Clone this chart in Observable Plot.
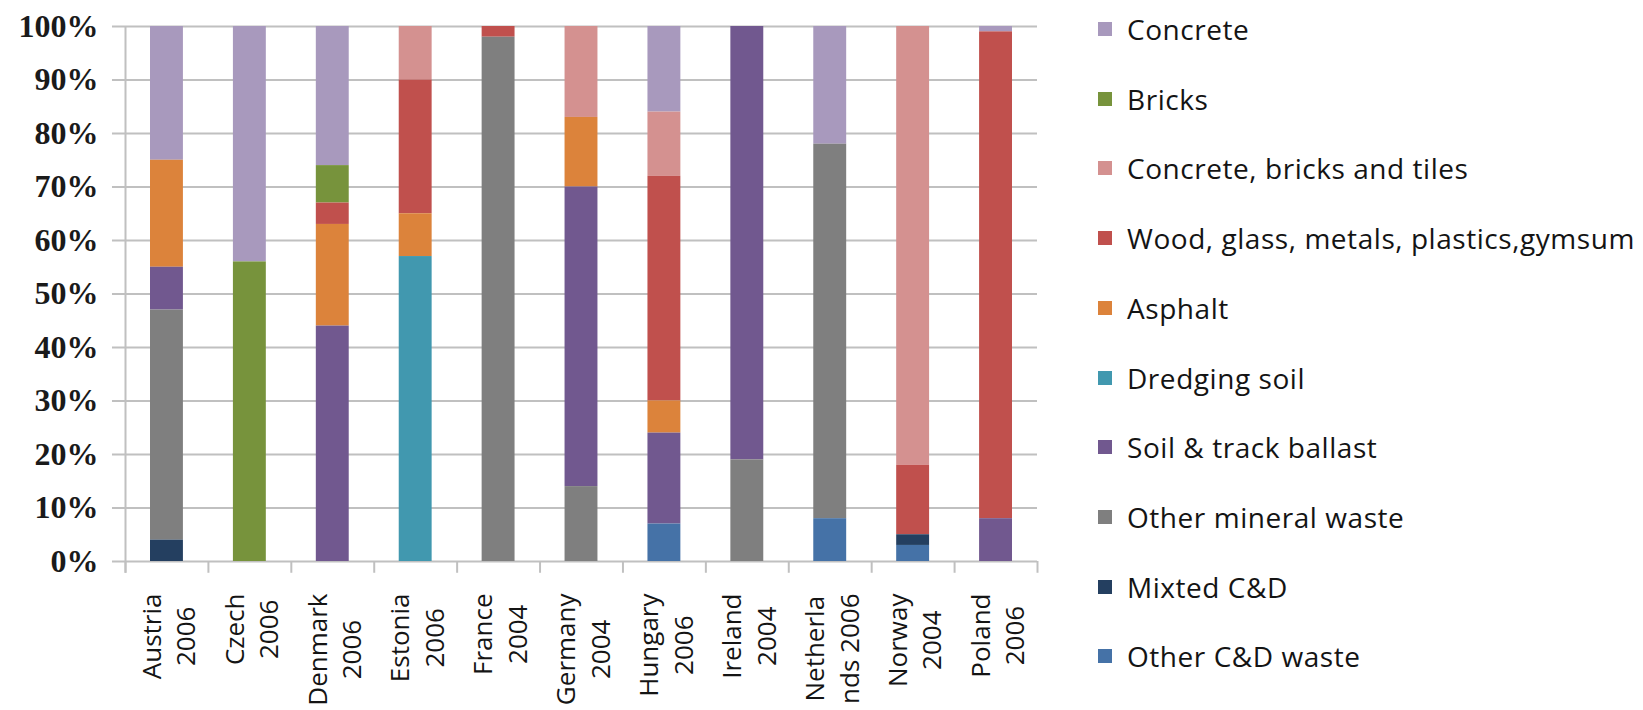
<!DOCTYPE html>
<html><head><meta charset="utf-8">
<script src="https://cdn.jsdelivr.net/npm/d3@7"></script>
<script src="https://cdn.jsdelivr.net/npm/@observablehq/plot@0.6"></script>
<style>
html,body{margin:0;padding:0;background:#fff;}
#wrap{display:flex;width:1643px;height:710px;overflow:hidden;}
#chart{width:1080px;height:710px;}
#legend{position:relative;width:563px;height:710px;font-family:"Open Sans",sans-serif;font-size:28px;letter-spacing:0.55px;color:#141414;}
.item{position:absolute;left:18px;display:flex;align-items:center;white-space:nowrap;height:40px;margin-top:-20px;}
.sw{width:14px;height:14px;margin-right:15px;flex:none;}
</style></head>
<body><div id="wrap"><div id="chart"></div><div id="legend"></div></div>
<script>
// Categories (x axis labels)
const countries = ["Austria\n2006","Czech\n2006","Denmark\n2006","Estonia\n2006","France\n2004","Germany\n2004","Hungary\n2006","Ireland\n2004","Netherla\nnds 2006","Norway\n2004","Poland\n2006"];

// Series values (% share), one array per waste type, in country order
const concrete            = [25,44,26, 0, 0, 0,16, 0,22, 0, 1];
const bricks              = [ 0,56, 7, 0, 0, 0, 0, 0, 0, 0, 0];
const concreteBricksTiles = [ 0, 0, 0,10, 0,17,12, 0, 0,82, 0];
const woodGlassMetals     = [ 0, 0, 4,25, 2, 0,42, 0, 0,13,91];
const asphalt             = [20, 0,19, 8, 0,13, 6, 0, 0, 0, 0];
const dredgingSoil        = [ 0, 0, 0,57, 0, 0, 0, 0, 0, 0, 0];
const soilTrackBallast    = [ 8, 0,44, 0, 0,56,17,81, 0, 0, 8];
const otherMineralWaste   = [43, 0, 0, 0,98,14, 0,19,70, 0, 0];
const mixtedCD            = [ 4, 0, 0, 0, 0, 0, 0, 0, 0, 2, 0];
const otherCDWaste        = [ 0, 0, 0, 0, 0, 0, 7, 0, 8, 3, 0];

// Series names (legend order, top to bottom) and colours
const seriesNames = ["Concrete","Bricks","Concrete, bricks and tiles","Wood, glass, metals, plastics,gymsum","Asphalt","Dredging soil","Soil & track ballast","Other mineral waste","Mixted C&D","Other C&D waste"];
const seriesValues = [concrete,bricks,concreteBricksTiles,woodGlassMetals,asphalt,dredgingSoil,soilTrackBallast,otherMineralWaste,mixtedCD,otherCDWaste];
const seriesColors = ["#a899bd","#77933c","#d49190","#c0504d","#dc833b","#4198af","#71588f","#7f7f7f","#243f60","#4572a7"];

// Y tick values
const yTicks = [0,10,20,30,40,50,60,70,80,90,100];

const rows = [];
seriesNames.forEach((s, k) => seriesValues[k].forEach((v, i) => {
  if (v > 0) rows.push({i, country: countries[i], type: s, value: v});
}));
const stackOrder = seriesNames.slice().reverse();
const xTicks = countries.map((c, i) => i + 0.5);
const boundaries = d3.range(countries.length + 1);
const grid = "#c0c0c0";

const chart = Plot.plot({
  width: 1080, height: 710,
  marginLeft: 125, marginRight: 43, marginTop: 26, marginBottom: 149,
  style: {fontFamily: "'Open Sans', sans-serif", color: "#141414", background: "#fff"},
  x: {domain: [0, countries.length], axis: null},
  y: {domain: [0, 100], axis: null},
  color: {domain: seriesNames, range: seriesColors},
  marks: [
    Plot.ruleY(yTicks, {x1: -0.157, x2: countries.length, stroke: grid, strokeWidth: 2}),
    Plot.ruleX(boundaries, {y1: -2.2, y2: 0, stroke: grid, strokeWidth: 2}),
    Plot.ruleX([0], {y1: -2.2, y2: 100, stroke: grid, strokeWidth: 2}),
    Plot.rectY(rows, {x1: d => d.i, x2: d => d.i + 1, y: "value", fill: "type", order: stackOrder, insetLeft: 25, insetRight: 25}),
    Plot.axisY(yTicks, {label: null, tickSize: 0, tickPadding: 27, tickFormat: d => d + "%", fontFamily: "'Liberation Serif', serif", fontWeight: "bold", fontSize: 32, fill: "#1a1a1a"}),
    Plot.axisX(xTicks, {label: null, tickSize: 0, tickPadding: 32, tickRotate: -90, tickFormat: d => countries[Math.floor(d)], fontSize: 26, lineHeight: 1.33, fill: "#141414"})
  ]
});
document.getElementById("chart").appendChild(chart);

// centre the lines of each rotated x label on one another (as in the original)
d3.select(chart).selectAll('g[aria-label="x-axis tick label"] text').each(function() {
  const tspans = this.querySelectorAll("tspan");
  if (!tspans.length) return;
  let L = 0;
  tspans.forEach(t => { L = Math.max(L, t.getComputedTextLength()); });
  this.setAttribute("text-anchor", "middle");
  tspans.forEach(t => t.setAttribute("x", -L / 2));
});

// legend
const legend = d3.select("#legend");
seriesNames.forEach((s, k) => {
  const it = legend.append("div").attr("class", "item").style("top", (29 + 69.7 * k) + "px");
  it.append("span").attr("class", "sw").style("background", seriesColors[k]);
  it.append("span").text(s);
});
</script>
</body></html>
